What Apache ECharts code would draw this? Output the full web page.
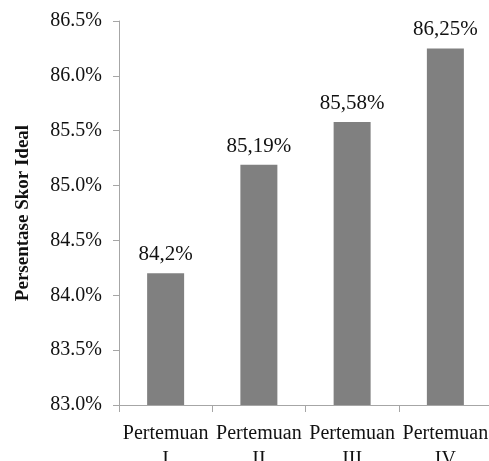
<!DOCTYPE html>
<html>
<head>
<meta charset="utf-8">
<script src="https://cdn.jsdelivr.net/npm/echarts@6/dist/echarts.min.js"></script>
<style>html,body{margin:0;padding:0;background:#fff}#c{width:489px;height:461px}</style>
</head>
<body>
<div id="c"></div>
<script>
var categories = ['Pertemuan\nI', 'Pertemuan\nII', 'Pertemuan\nIII', 'Pertemuan\nIV'];
var values = [84.2, 85.19, 85.58, 86.25];
var valueLabels = ['84,2%', '85,19%', '85,58%', '86,25%'];
var yMin = 83.0, yMax = 86.5, yStep = 0.5;
var yTitle = 'Persentase Skor Ideal';

var chart = echarts.init(document.getElementById('c'), null, {renderer: 'canvas'});
var serif = 'Liberation Serif';
chart.setOption({
  animation: false,
  grid: {left: 119, top: 21, width: 373, bottom: 56, containLabel: false, outerBoundsMode: 'none'},
  xAxis: {
    type: 'category',
    data: categories,
    axisLine: {lineStyle: {color: '#a6a6a6', width: 1}},
    axisTick: {show: true, length: 7, lineStyle: {color: '#a6a6a6'}},
    axisLabel: {fontFamily: serif, fontSize: 20, color: '#111', margin: 16, lineHeight: 26, interval: 0}
  },
  yAxis: {
    type: 'value',
    min: yMin, max: yMax, interval: yStep,
    name: yTitle,
    nameLocation: 'middle',
    nameRotate: 90,
    nameGap: 86,
    nameTextStyle: {fontFamily: serif, fontSize: 19, fontWeight: 'bold', color: '#111'},
    axisLine: {show: true, lineStyle: {color: '#a6a6a6', width: 1}},
    axisTick: {show: true, length: 6, lineStyle: {color: '#a6a6a6'}},
    splitLine: {show: false},
    axisLabel: {
      fontFamily: serif, fontSize: 20, color: '#111', margin: 17,
      formatter: function (v) { return v.toFixed(1) + '%'; }
    }
  },
  series: [{
    type: 'bar',
    data: values,
    barWidth: 37,
    itemStyle: {color: '#808080'},
    label: {
      show: true, position: 'top', distance: 8,
      fontFamily: serif, fontSize: 21, color: '#111',
      formatter: function (p) { return valueLabels[p.dataIndex]; }
    }
  }]
});
</script>
</body>
</html>
